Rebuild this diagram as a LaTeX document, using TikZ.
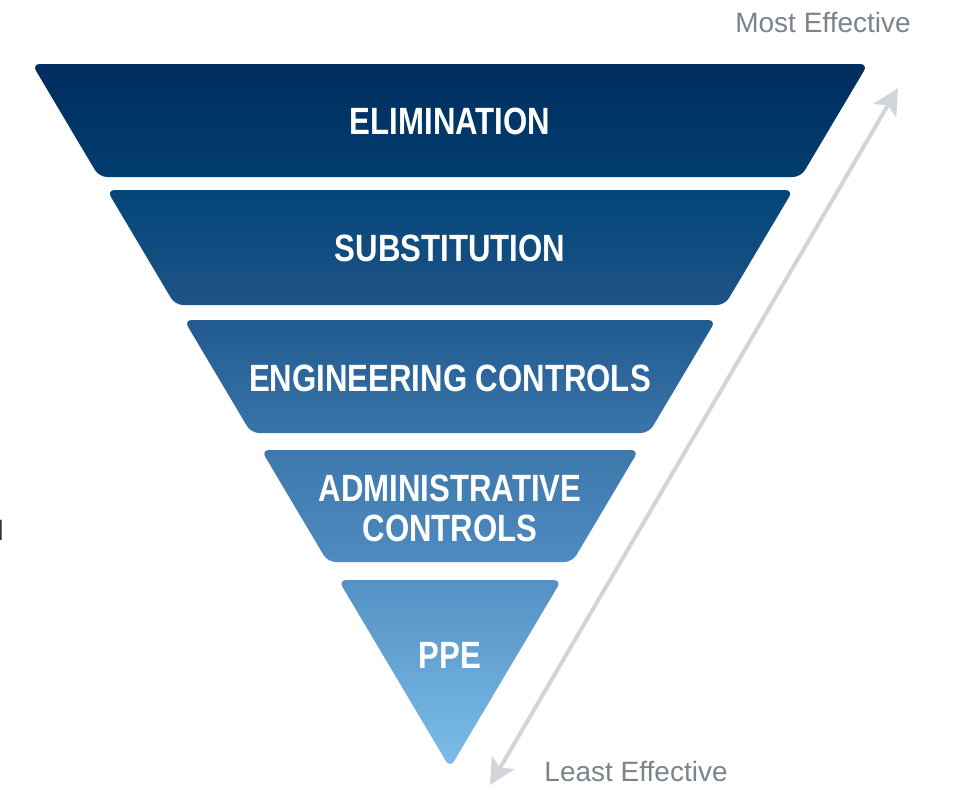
\documentclass[tikz,border=0pt]{standalone}
\usepackage{fontspec}
\usetikzlibrary{arrows.meta}
\setmainfont{Liberation Sans}
\newfontfamily\bandfont[FakeStretch=0.82]{Liberation Sans}
\definecolor{arrowgray}{HTML}{D1D5D9}
\definecolor{notegray}{HTML}{7B848B}
\definecolor{ppebottom}{HTML}{7BBDE8}
\definecolor{ppetop}{HTML}{5591C4}
\definecolor{adminbottom}{HTML}{4E8BC0}
\definecolor{admintop}{HTML}{3E78AD}
\definecolor{engbottom}{HTML}{3A74A8}
\definecolor{engtop}{HTML}{215A8F}
\definecolor{substbottom}{HTML}{1E5488}
\definecolor{substtop}{HTML}{044577}
\definecolor{elimbottom}{HTML}{023D70}
\definecolor{elimtop}{HTML}{002D5E}
% one gradient over the whole funnel (stops sit between 25bp and 75bp)
\pgfdeclareverticalshading{funnel}{100bp}{%
    color(0bp)=(ppebottom); color(25bp)=(ppebottom);
    color(38.35bp)=(ppetop); color(39.65bp)=(adminbottom);
    color(47.6bp)=(admintop); color(48.8bp)=(engbottom);
    color(56.8bp)=(engtop); color(57.9bp)=(substbottom);
    color(66.05bp)=(substtop); color(67bp)=(elimbottom);
    color(75bp)=(elimtop); color(100bp)=(elimtop)}
\begin{document}
\begin{tikzpicture}[
        x=1pt, y=-1pt,
        band/.style={text=white, font=\bandfont\bfseries\fontsize{38}{40}\selectfont, align=center}, % labels in the bands
        note/.style={text=notegray, font=\fontsize{28}{30}\selectfont, inner sep=0pt},
        effect/.style={draw=arrowgray, line width=4pt, {Stealth[length=26pt,width=26pt,inset=6pt]}-{Stealth[length=26pt,width=26pt,inset=6pt]}},
    ]
    \useasboundingbox (0,0) rectangle (953,787);

    % the five bands
    \begin{scope}
        \clip[rounded corners=8pt]
            (32,64) -- (868,64) -- (800.9,177) -- (99.1,177) -- cycle
            (106.8,190) -- (793.2,190) -- (724.9,305) -- (175.1,305) -- cycle
            (184,320) -- (716,320) -- (648.9,433) -- (251.1,433) -- cycle
            (261.2,450) -- (638.8,450) -- (572.3,562) -- (327.7,562) -- cycle
            (338.4,580) -- (561.6,580) -- (450,768) -- cycle;
        \shade[shading=funnel] (0,64) rectangle (953,768);
    \end{scope}

    \node[band] (elim) at (450,121) {ELIMINATION};
    \node[band] (subst) at (450,248) {SUBSTITUTION};
    \node[band] (eng) at (450,378) {ENGINEERING CONTROLS};
    \node[band] (admin) at (450,508) {ADMINISTRATIVE\\CONTROLS};
    \node[band] (ppe) at (450,655) {PPE};

    \coordinate (most) at (898,88);
    \coordinate (least) at (490,785);
    \draw[effect] (least) -- (most);

    \node[note] (mosttext) at (823,22) {Most Effective};
    \node[note] (leasttext) at (636,771) {Least Effective};
    \node[note, text=black!80, anchor=base east] (cut) at (4,540) {d};
\end{tikzpicture}
\end{document}
